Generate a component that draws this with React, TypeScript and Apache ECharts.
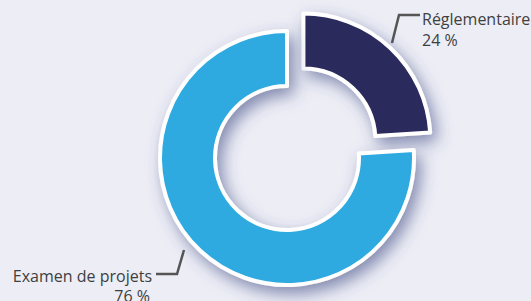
import React, { useEffect, useRef } from "react";
import * as echarts from "echarts";

const categories = ["Réglementaire", "Examen de projets"];
const values = [24, 76];
const colors = ["#29295B", "#2DAAE1"];
const percentLabels = ["24 %", "76 %"];

export default function App() {
  const ref = useRef<HTMLDivElement>(null);
  useEffect(() => {
    document.body.style.margin = "0";
    document.body.style.background = "#ECEDF5";
    const chart = echarts.init(ref.current!, undefined, { renderer: "svg" });
    const font = '16px "Open Sans", sans-serif';
    const textColor = "#3F3F3F";
    const lineColor = "#555555";
    chart.setOption({
      animation: false,
      backgroundColor: "#ECEDF5",
      series: [
        {
          type: "pie",
          center: [287, 158],
          radius: [72, 127],
          startAngle: 90,
          clockwise: true,
          selectedMode: "single",
          selectedOffset: 24,
          avoidLabelOverlap: false,
          label: { show: false },
          labelLine: { show: false },
          emphasis: { disabled: true },
          itemStyle: {
            borderColor: "#ffffff",
            borderWidth: 4,
            shadowBlur: 16,
            shadowColor: "rgba(60,70,130,0.6)",
            shadowOffsetX: 5,
            shadowOffsetY: 7,
          },
          data: categories.map((name, i) => ({
            name,
            value: values[i],
            selected: i === 0,
            itemStyle: { color: colors[i] },
          })),
        },
      ],
      graphic: [
        {
          type: "polyline",
          shape: { points: [[392, 43], [399, 15], [420, 15]] },
          style: { stroke: lineColor, lineWidth: 2.5, fill: null },
        },
        {
          type: "text",
          x: 422,
          y: 19,
          style: { text: categories[0], font, fill: textColor, textAlign: "left", textVerticalAlign: "middle" },
        },
        {
          type: "text",
          x: 422,
          y: 40,
          style: { text: percentLabels[0], font, fill: textColor, textAlign: "left", textVerticalAlign: "middle" },
        },
        {
          type: "polyline",
          shape: { points: [[156, 274], [177, 274], [184, 250]] },
          style: { stroke: lineColor, lineWidth: 2.5, fill: null },
        },
        {
          type: "text",
          x: 152,
          y: 276,
          style: { text: categories[1], font, fill: textColor, textAlign: "right", textVerticalAlign: "middle" },
        },
        {
          type: "text",
          x: 150,
          y: 296,
          style: { text: percentLabels[1], font, fill: textColor, textAlign: "right", textVerticalAlign: "middle" },
        },
      ],
    });
    return () => chart.dispose();
  }, []);
  return (
    <div
      ref={ref}
      style={{ position: "fixed", left: 0, top: 0, width: 531, height: 301 }}
    />
  );
}
